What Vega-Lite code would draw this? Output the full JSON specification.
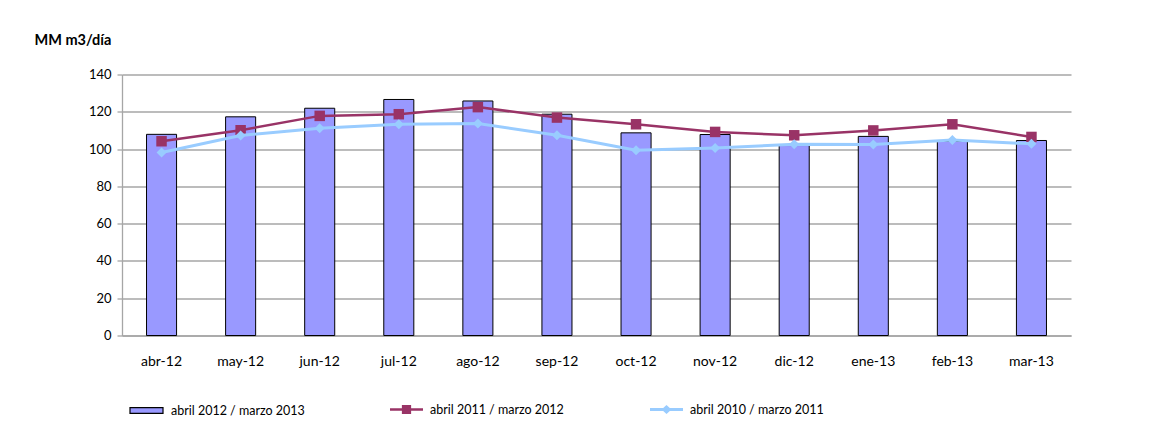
{
  "$schema": "https://vega.github.io/schema/vega-lite/v6.json",
  "width": 949,
  "height": 261,
  "autosize": "none",
  "padding": {"left": 122, "top": 74.5, "right": 82, "bottom": 98.5},
  "background": "white",
  "config": {
    "font": "Lato",
    "view": {"stroke": null},
    "axis": {"labelColor": "black", "labelFontSize": 13, "labelFont": "Lato"}
  },
  "data": {
    "values": [
      {"mes": "abr-12", "serie": "abril 2012 / marzo 2013", "valor": 107.9},
      {"mes": "may-12", "serie": "abril 2012 / marzo 2013", "valor": 117.3},
      {"mes": "jun-12", "serie": "abril 2012 / marzo 2013", "valor": 121.9},
      {"mes": "jul-12", "serie": "abril 2012 / marzo 2013", "valor": 126.6},
      {"mes": "ago-12", "serie": "abril 2012 / marzo 2013", "valor": 125.8},
      {"mes": "sep-12", "serie": "abril 2012 / marzo 2013", "valor": 118.7},
      {"mes": "oct-12", "serie": "abril 2012 / marzo 2013", "valor": 108.7},
      {"mes": "nov-12", "serie": "abril 2012 / marzo 2013", "valor": 107.8},
      {"mes": "dic-12", "serie": "abril 2012 / marzo 2013", "valor": 101.9},
      {"mes": "ene-13", "serie": "abril 2012 / marzo 2013", "valor": 106.8},
      {"mes": "feb-13", "serie": "abril 2012 / marzo 2013", "valor": 104.2},
      {"mes": "mar-13", "serie": "abril 2012 / marzo 2013", "valor": 104.6},
      {"mes": "abr-12", "serie": "abril 2011 / marzo 2012", "valor": 104.2},
      {"mes": "may-12", "serie": "abril 2011 / marzo 2012", "valor": 110.1},
      {"mes": "jun-12", "serie": "abril 2011 / marzo 2012", "valor": 117.8},
      {"mes": "jul-12", "serie": "abril 2011 / marzo 2012", "valor": 118.7},
      {"mes": "ago-12", "serie": "abril 2011 / marzo 2012", "valor": 122.5},
      {"mes": "sep-12", "serie": "abril 2011 / marzo 2012", "valor": 116.9},
      {"mes": "oct-12", "serie": "abril 2011 / marzo 2012", "valor": 113.3},
      {"mes": "nov-12", "serie": "abril 2011 / marzo 2012", "valor": 109.2},
      {"mes": "dic-12", "serie": "abril 2011 / marzo 2012", "valor": 107.4},
      {"mes": "ene-13", "serie": "abril 2011 / marzo 2012", "valor": 110.0},
      {"mes": "feb-13", "serie": "abril 2011 / marzo 2012", "valor": 113.3},
      {"mes": "mar-13", "serie": "abril 2011 / marzo 2012", "valor": 106.5},
      {"mes": "abr-12", "serie": "abril 2010 / marzo 2011", "valor": 98.2},
      {"mes": "may-12", "serie": "abril 2010 / marzo 2011", "valor": 107.3},
      {"mes": "jun-12", "serie": "abril 2010 / marzo 2011", "valor": 111.2},
      {"mes": "jul-12", "serie": "abril 2010 / marzo 2011", "valor": 113.3},
      {"mes": "ago-12", "serie": "abril 2010 / marzo 2011", "valor": 113.7},
      {"mes": "sep-12", "serie": "abril 2010 / marzo 2011", "valor": 107.4},
      {"mes": "oct-12", "serie": "abril 2010 / marzo 2011", "valor": 99.4},
      {"mes": "nov-12", "serie": "abril 2010 / marzo 2011", "valor": 100.6},
      {"mes": "dic-12", "serie": "abril 2010 / marzo 2011", "valor": 102.6},
      {"mes": "ene-13", "serie": "abril 2010 / marzo 2011", "valor": 102.5},
      {"mes": "feb-13", "serie": "abril 2010 / marzo 2011", "valor": 104.8},
      {"mes": "mar-13", "serie": "abril 2010 / marzo 2011", "valor": 102.8}
    ]
  },
  "encoding": {
    "x": {
      "field": "mes",
      "type": "ordinal",
      "sort": ["abr-12", "may-12", "jun-12", "jul-12", "ago-12", "sep-12", "oct-12", "nov-12", "dic-12", "ene-13", "feb-13", "mar-13"],
      "scale": {"paddingInner": 0, "paddingOuter": 0},
      "axis": {
        "title": null,
        "labelAngle": 0,
        "ticks": false,
        "labelPadding": 19,
        "labelFontSize": 14,
        "domainColor": "#A6A6A6",
        "domainWidth": 1.3
      }
    },
    "y": {
      "field": "valor",
      "type": "quantitative",
      "scale": {"domain": [0, 140], "nice": false},
      "axis": {
        "values": [0, 20, 40, 60, 80, 100, 120, 140],
        "grid": true,
        "gridColor": "#A6A6A6",
        "gridWidth": 1.3,
        "domainColor": "#A6A6A6",
        "domainWidth": 1.3,
        "tickColor": "#A6A6A6",
        "tickWidth": 1.3,
        "tickSize": 5,
        "labelPadding": 6,
        "title": "MM m3/día",
        "titleAngle": 0,
        "titleX": -88,
        "titleY": -30.5,
        "titleAlign": "left",
        "titleBaseline": "alphabetic",
        "titleFontSize": 14.5,
        "titleFontWeight": "bold",
        "titleFont": "Lato",
        "titleColor": "black"
      }
    },
    "color": {
      "field": "serie",
      "type": "nominal",
      "scale": {
        "domain": ["abril 2011 / marzo 2012", "abril 2010 / marzo 2011"],
        "range": ["#993366", "#99CCFF"]
      },
      "legend": {
        "orient": "none",
        "legendX": 268,
        "legendY": 318.5,
        "direction": "horizontal",
        "columns": 2,
        "columnPadding": 86,
        "title": null,
        "labelFontSize": 12.5,
        "labelFont": "Lato",
        "labelColor": "black",
        "labelOffset": 7,
        "symbolSize": 1089,
        "symbolType": "M-1,-0.075H-0.28V-0.27H0.28V-0.075H1V0.075H0.28V0.27H-0.28V0.075H-1Z",
        "symbolStrokeWidth": 0,
        "symbolOpacity": 1,
        "encode": {
          "symbols": {
            "update": {
              "shape": {"signal": "datum.value === 'abril 2011 / marzo 2012' ? 'M-1,-0.075H-0.28V-0.27H0.28V-0.075H1V0.075H0.28V0.27H-0.28V0.075H-1Z' : 'M-1,-0.085H-0.2L0,-0.27L0.2,-0.085H1V0.085H0.2L0,0.27L-0.2,0.085H-1Z'"},
              "fill": {"signal": "datum.value === 'abril 2011 / marzo 2012' ? '#993366' : '#99CCFF'"},
              "stroke": {"value": "transparent"},
              "strokeWidth": {"value": 0},
              "opacity": {"value": 1}
            }
          }
        }
      }
    }
  },
  "layer": [
    {
      "transform": [{"filter": "datum.serie === 'abril 2012 / marzo 2013'"}],
      "mark": {"type": "bar", "width": {"band": 0.38}, "stroke": "black", "strokeWidth": 1},
      "encoding": {
        "color": null,
        "fill": {
          "field": "serie",
          "type": "nominal",
          "scale": {"domain": ["abril 2012 / marzo 2013"], "range": ["#9999FF"]},
          "legend": {
            "orient": "none",
            "legendX": 7,
            "legendY": 318.5,
            "title": null,
            "labelFontSize": 12.5,
            "labelFont": "Lato",
            "labelColor": "black",
            "labelOffset": 7,
            "symbolSize": 1089,
            "symbolType": "M-1,-0.18H1V0.18H-1Z",
            "symbolStrokeColor": "#000000",
            "symbolStrokeWidth": 1.2,
            "symbolOpacity": 1,
            "symbolFillColor": "#9999FF"
          }
        }
      }
    },
    {
      "transform": [{"filter": "datum.serie === 'abril 2011 / marzo 2012'"}],
      "mark": {"type": "line", "strokeWidth": 2.5}
    },
    {
      "transform": [{"filter": "datum.serie === 'abril 2011 / marzo 2012'"}],
      "mark": {"type": "point", "shape": "square", "filled": true, "size": 110, "opacity": 1}
    },
    {
      "transform": [{"filter": "datum.serie === 'abril 2010 / marzo 2011'"}],
      "mark": {"type": "line", "strokeWidth": 3}
    },
    {
      "transform": [{"filter": "datum.serie === 'abril 2010 / marzo 2011'"}],
      "mark": {"type": "point", "shape": "diamond", "filled": true, "size": 100, "opacity": 1}
    }
  ]
}
